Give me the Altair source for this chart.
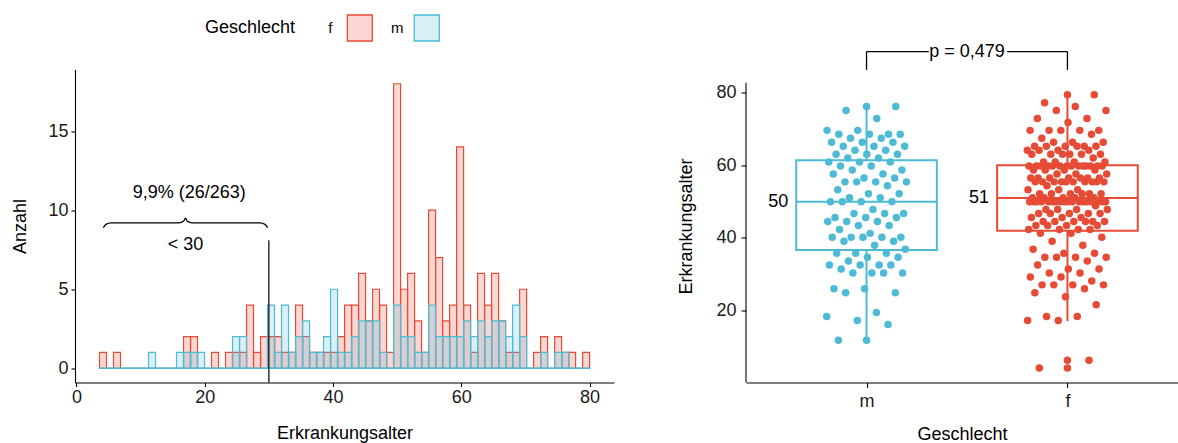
import altair as alt
import pandas as pd

RED = "#E64B35"
BLUE = "#4DBBD5"
FONT = "Liberation Sans"

# ---------------- data ----------------
# histogram of age at onset: 70 bins between HIST_MIN and HIST_MAX
HIST_MIN = 3.6
HIST_MAX = 80.0
f_counts = [1, 0, 1, 0, 0, 0, 0, 0, 0, 0, 0, 0, 2, 2, 0, 0, 1, 0, 1, 1, 1, 4, 1, 2,
            2, 2, 1, 1, 4, 2, 1, 1, 1,
            1, 2, 4, 4, 6, 3, 5, 4, 1,
            18, 5, 6, 3, 1, 10, 7, 3, 4,
            14, 4, 1, 6, 4, 6, 3, 1, 1, 5,
            0, 1, 2, 0, 2, 1, 1, 0, 1]
m_counts = [0, 0, 0, 0, 0, 0, 0, 1, 0, 0, 0, 1, 1, 1, 1, 0, 0, 0, 0, 2, 2, 0, 0, 0,
            4, 1, 4, 1, 2, 3, 1, 1, 2,
            5, 1, 1, 2, 3, 3, 3, 1, 0,
            4, 2, 2, 1, 1, 4, 2, 2, 2,
            2, 3, 2, 3, 2, 3, 3, 2, 4, 2,
            0, 0, 1, 0, 1, 1, 0, 0, 0]
legend_groups = ["f", "m"]
cutoff = 30
share_text = "9,9% (26/263)"
cutoff_text = "< 30"

# boxplot statistics per group
groups = ["m", "f"]
q1 = [36.7, 42.0]
median = [50, 51]
q3 = [61.4, 60.0]
whisk_lo = [12.2, 17.1]
whisk_hi = [75.9, 79.1]
p_text = "p = 0,479"

COLORS = {"f": RED, "m": BLUE}

# ---------------- derived tables ----------------
n_bins = len(f_counts)
bw = (HIST_MAX - HIST_MIN) / n_bins
rows = []
for sex, counts in (("f", f_counts), ("m", m_counts)):
    for i, c in enumerate(counts):
        lo = HIST_MIN + i * bw
        rows.append(dict(sex=sex, lo=lo, hi=lo + bw, mid=lo + bw / 2, count=c))
hist = pd.DataFrame(rows)

pos = {g: i + 1 for i, g in enumerate(groups)}
box = pd.DataFrame(dict(group=groups, q1=q1, med=median, q3=q3, lo=whisk_lo, hi=whisk_hi))
box["pos"] = box["group"].map(pos)
box["xl"] = box["pos"] - 0.35
box["xr"] = box["pos"] + 0.35

pts = []
for g in groups:
    sub = hist[hist.sex == g]
    k = 0
    for _, r in sub.iterrows():
        for _ in range(int(r["count"])):
            jit = (((k * 0.618034 + 0.15) % 1.0) - 0.5) * 0.4
            pts.append(dict(group=g, age=r["mid"], x=pos[g] + jit))
            k += 1
points = pd.DataFrame(pts)
bstat = box.set_index("group")
out = points[(points.age < points.group.map(bstat["lo"])) | (points.age > points.group.map(bstat["hi"]))].copy()
out["x"] = out["group"].map(pos)

# ---------------- left panel: histogram ----------------
W1, H = 539, 313
xs = alt.Scale(domain=[-0.22, 83.8], nice=False, zero=False)
ys = alt.Scale(domain=[-0.9, 18.9], nice=False, zero=False)
xax = alt.Axis(values=[0, 20, 40, 60, 80], title="Erkrankungsalter", tickSize=4,
               labelPadding=2, titlePadding=18)
yax = alt.Axis(values=[0, 5, 10, 15], title="Anzahl", tickSize=4, labelPadding=3,
               titlePadding=18)


def X(f):
    return alt.X(f, type="quantitative", scale=xs, axis=xax)


def Y(f):
    return alt.Y(f, type="quantitative", scale=ys, axis=yax)


layers = []
for g in ["f", "m"]:
    layers.append(
        alt.Chart(hist[hist.sex == g]).mark_rect(
            fill=COLORS[g], fillOpacity=0.22, stroke=COLORS[g], strokeWidth=1.2
        ).encode(x=X("lo"), x2="hi", y=Y("count"), y2=alt.datum(0))
    )
base_df = pd.DataFrame({"a": [HIST_MIN], "b": [HIST_MAX], "y": [0]})
layers.append(alt.Chart(base_df).mark_rule(color=BLUE, strokeWidth=1.3).encode(
    x=X("a"), x2="b", y=Y("y")))
cut_df = pd.DataFrame({"x": [cutoff], "top": [8.1]})
layers.append(alt.Chart(cut_df).mark_rule(color="black", strokeWidth=1.2).encode(
    x=X("x"), y=Y("top"), y2=alt.value(H)))
brace = pd.DataFrame({
    "x": [4.2, 4.6, 5.4, 16.0, 16.7, 17.0, 17.3, 18.0, 28.6, 29.4, 29.8],
    "y": [8.9, 9.1, 9.2, 9.2, 9.3, 9.5, 9.3, 9.2, 9.2, 9.1, 8.9],
})
brace["o"] = range(len(brace))
layers.append(alt.Chart(brace).mark_line(color="black", strokeWidth=1.3, interpolate="monotone").encode(
    x=X("x"), y=Y("y"), order="o"))
ann = pd.DataFrame({"x": [17.6, 17.0], "y": [11.1, 7.8], "t": [share_text, cutoff_text]})
layers.append(alt.Chart(ann).mark_text(fontSize=18, color="black", baseline="middle").encode(
    x=X("x"), y=Y("y"), text="t"))
# legend (top)
leg_title = pd.DataFrame({"t": ["Geschlecht"]})
layers.append(alt.Chart(leg_title).mark_text(fontSize=18, align="left", baseline="middle", color="black").encode(
    x=alt.value(130), y=alt.value(-41.5), text="t"))
for i, g in enumerate(legend_groups):
    x0 = 255.3 + i * 67
    d = pd.DataFrame({"t": [g]})
    layers.append(alt.Chart(d).mark_text(fontSize=15, align="center", baseline="middle", color="black").encode(
        x=alt.value(x0), y=alt.value(-41.5), text="t"))
    layers.append(alt.Chart(d).mark_rect(fill=COLORS[g], fillOpacity=0.22, stroke=COLORS[g], strokeWidth=1.3).encode(
        x=alt.value(x0 + 17), x2=alt.value(x0 + 42), y=alt.value(-54.5), y2=alt.value(-28.5)))

left = alt.layer(*layers).properties(width=W1, height=H)

# ---------------- right panel: boxplot ----------------
W2 = 432
xr = alt.Scale(domain=[0.4, 0.4 + W2 / 200.9], nice=False, zero=False)
yr = alt.Scale(domain=[0.17, 86.4], nice=False, zero=False)
lab_expr = " : ".join(f"datum.value == {pos[g]} ? '{g}'" for g in groups[:-1]) + f" : '{groups[-1]}'"
xrax = alt.Axis(values=[pos[g] for g in groups], labelExpr=lab_expr, title="Geschlecht", tickSize=5,
                labelPadding=5, titlePadding=15)
yrax = alt.Axis(values=[20, 40, 60, 80], title="Erkrankungsalter", domain=False, tickSize=5,
                labelPadding=5, titlePadding=20)
cs = alt.Scale(domain=groups, range=[COLORS[g] for g in groups])


def XR(f):
    return alt.X(f, type="quantitative", scale=xr, axis=xrax)


def YR(f):
    return alt.Y(f, type="quantitative", scale=yr, axis=yrax)


C = alt.Color("group:N", scale=cs, legend=None)

rl = []
axis_df = pd.DataFrame({"a": [0]})
rl.append(alt.Chart(axis_df).mark_rule(color="black", strokeWidth=1.1).encode(
    x=alt.value(0), y=alt.value((86.4 - 82.75) * 3.63), y2=alt.value(H)))
# comparison bracket
br_top, br_leg = 91.35, 86.3
legs = pd.DataFrame({"x": [pos[groups[0]], pos[groups[1]]], "a": [br_leg, br_leg], "b": [br_top, br_top]})
rl.append(alt.Chart(legs).mark_rule(color="black", strokeWidth=1.3).encode(x=XR("x"), y=YR("a"), y2="b"))
segs = pd.DataFrame({"x": [pos[groups[0]], 1.70], "x2": [1.31, pos[groups[1]]], "y": [br_top, br_top]})
rl.append(alt.Chart(segs).mark_rule(color="black", strokeWidth=1.3).encode(x=XR("x"), x2="x2", y=YR("y")))
ptxt = pd.DataFrame({"x": [(pos[groups[0]] + pos[groups[1]]) / 2], "y": [br_top], "t": [p_text]})
rl.append(alt.Chart(ptxt).mark_text(fontSize=18, baseline="middle", color="black").encode(
    x=XR("x"), y=YR("y"), text="t"))
# box elements
rl.append(alt.Chart(box).mark_rule(strokeWidth=2).encode(x=XR("pos"), y=YR("lo"), y2="hi", color=C))
rl.append(alt.Chart(box).mark_rect(fill="white", strokeWidth=2).encode(
    x=XR("xl"), x2="xr", y=YR("q1"), y2="q3", stroke=alt.Stroke("group:N", scale=cs, legend=None)))
rl.append(alt.Chart(box).mark_rule(strokeWidth=2).encode(x=XR("xl"), x2="xr", y=YR("med"), color=C))
rl.append(alt.Chart(box).mark_text(fontSize=18, align="right", baseline="middle", dx=-8, color="black").encode(
    x=XR("xl"), y=YR("med"), text=alt.Text("med:Q", format="d")))
rl.append(alt.Chart(out).mark_circle(size=56, opacity=1).encode(x=XR("x"), y=YR("age"), color=C))
rl.append(alt.Chart(points).mark_circle(size=56, opacity=1).encode(x=XR("x"), y=YR("age"), color=C))

right = alt.layer(*rl).properties(width=W2, height=H)

chart = alt.hconcat(left, right, spacing=132, bounds="flush").properties(
    padding={"left": 11, "top": 13.5, "right": 0, "bottom": 5}
).configure(font=FONT).configure_view(stroke=None).configure_axis(
    grid=False, domainColor="black", tickColor="black", domainWidth=1.1, tickWidth=1.1,
    labelColor="#1a1a1a", labelFontSize=18, titleFontSize=18, titleFontWeight="normal",
    titleColor="black"
)

chart.save("out.html", embed_options={"renderer": "svg", "actions": False})
